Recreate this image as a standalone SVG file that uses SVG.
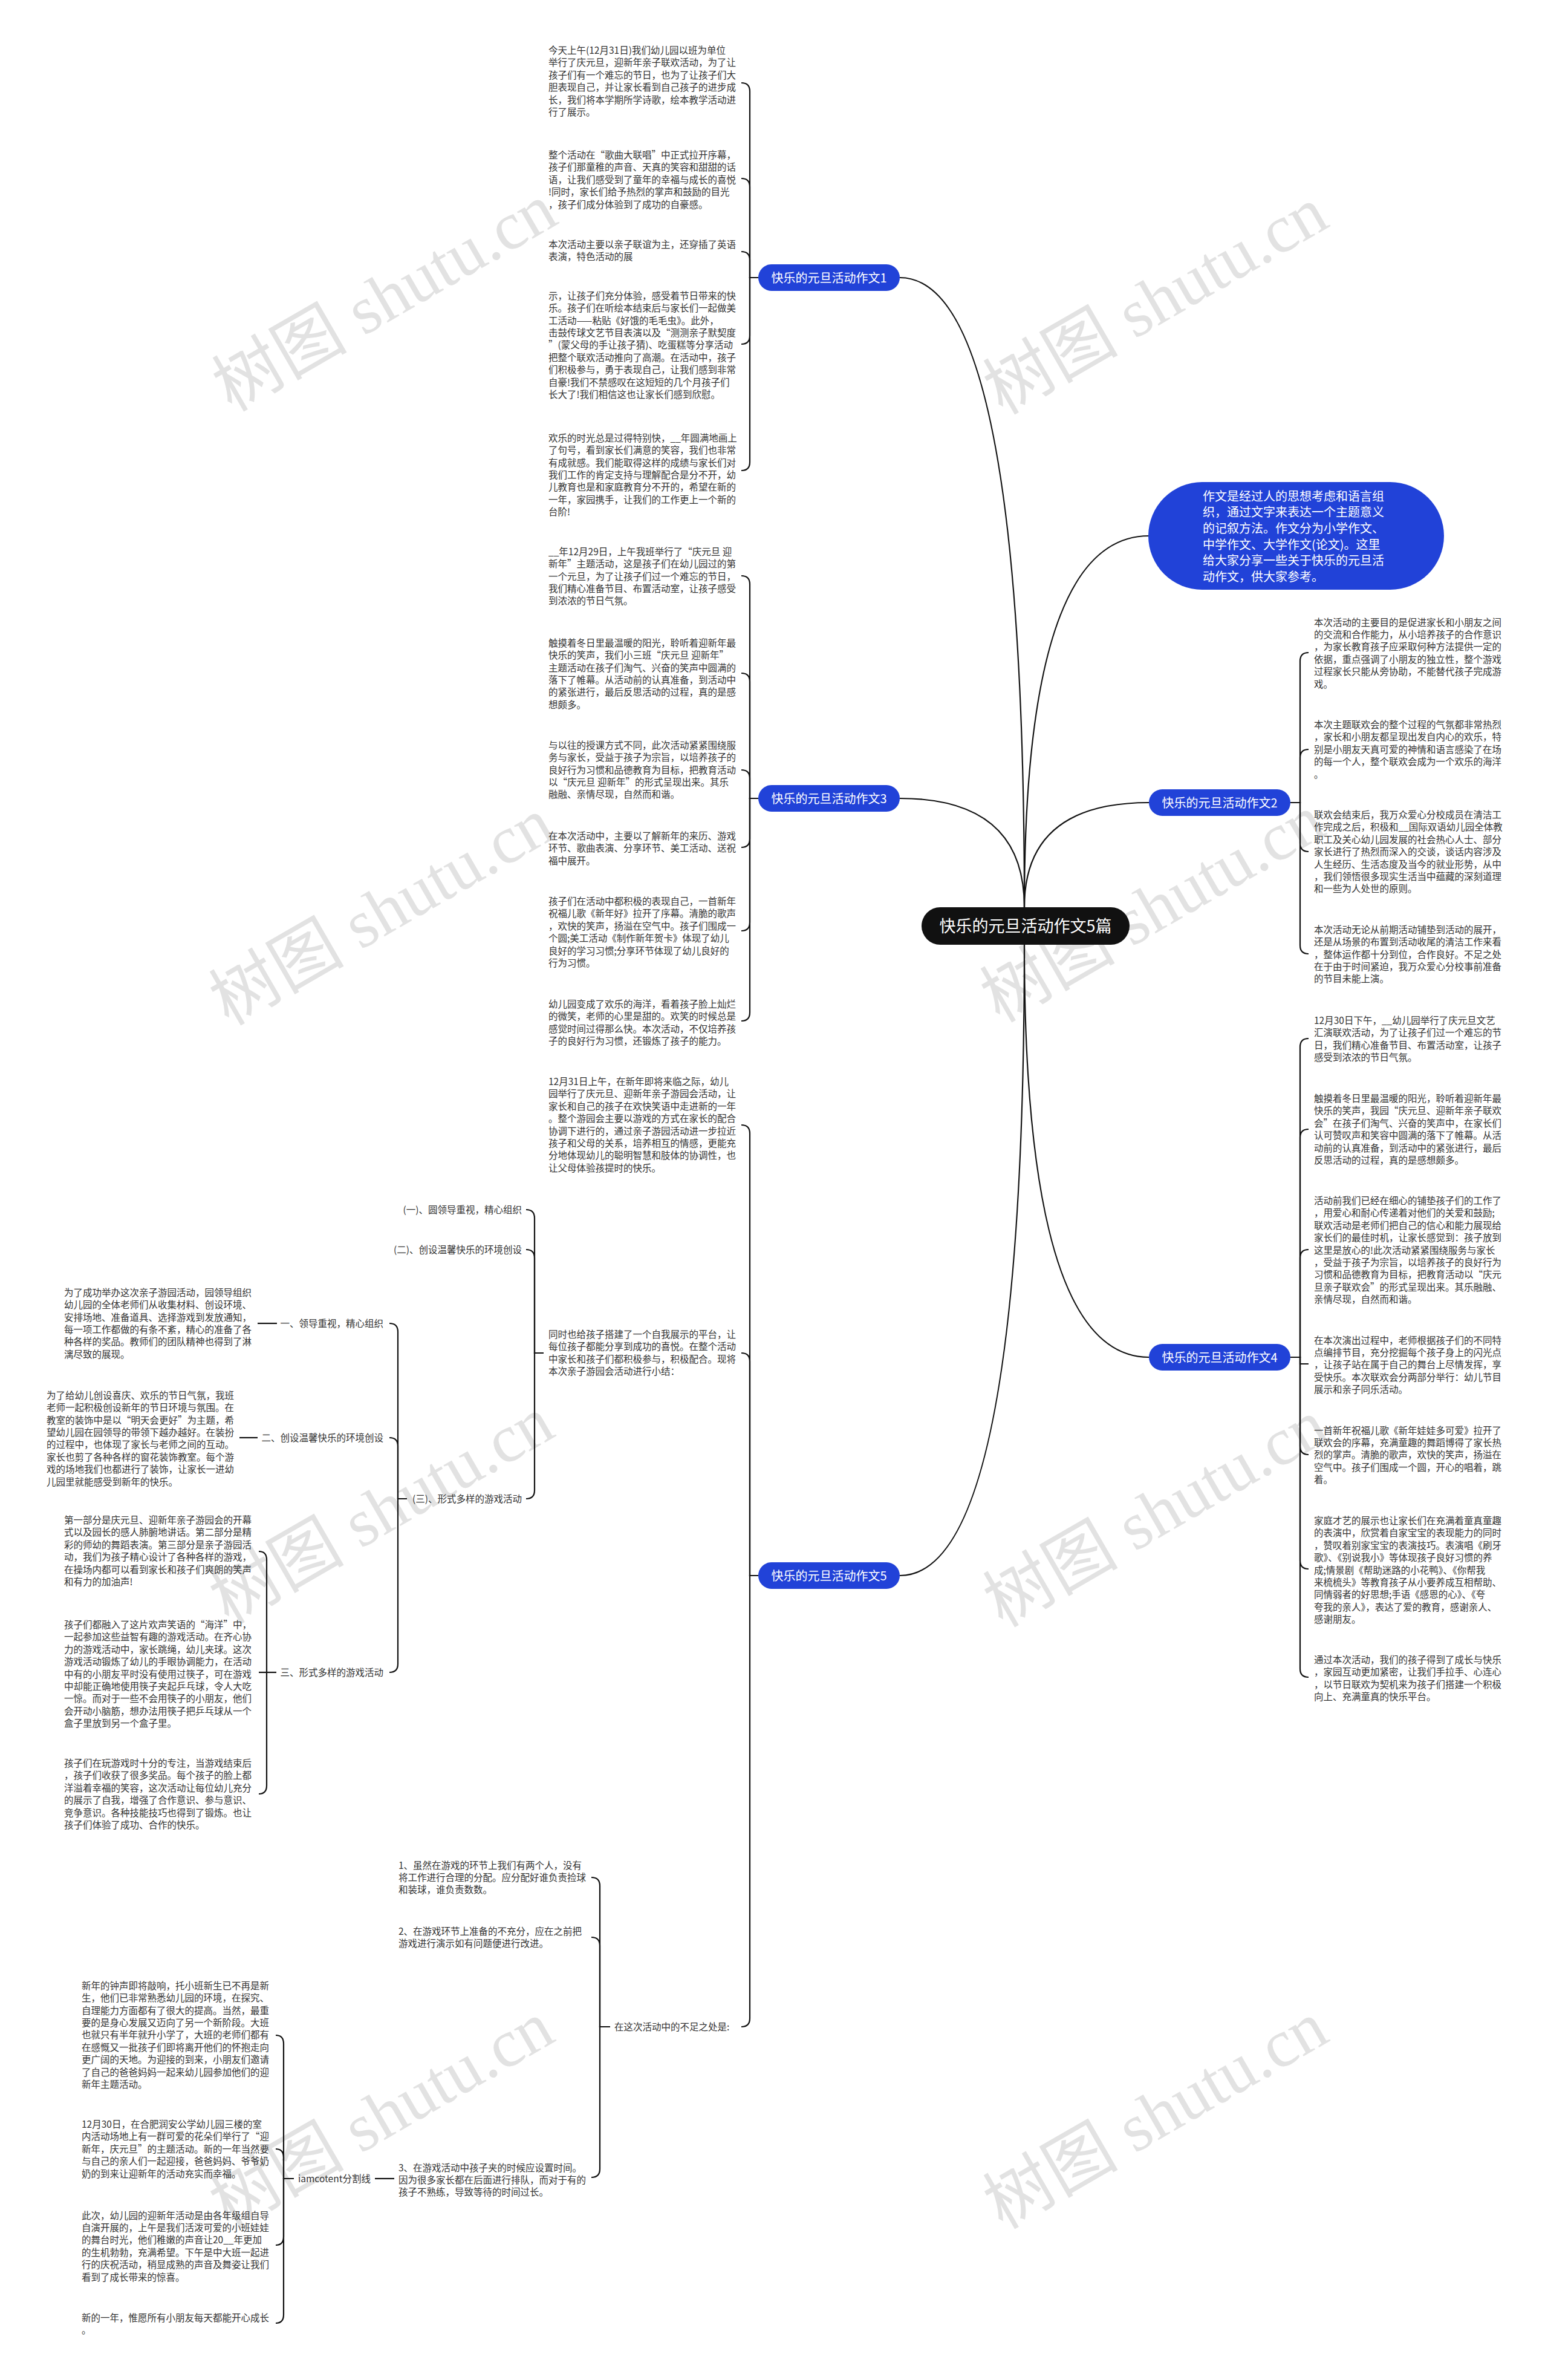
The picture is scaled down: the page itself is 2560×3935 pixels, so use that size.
<svg xmlns="http://www.w3.org/2000/svg" width="2560" height="3935" viewBox="0 0 2560 3935">
<style>
.t{font-family:"Noto Sans CJK SC","Noto Sans",sans-serif;font-size:15.5px;fill:#333}
.lb{font-family:"Noto Sans CJK SC","Noto Sans",sans-serif;font-size:15.5px;fill:#333}
.nt{font-family:"Noto Sans CJK SC","Noto Sans",sans-serif;font-size:20px;fill:#fff;text-anchor:middle}
.bn{fill:#2142d8}
.c{fill:none;stroke:#111;stroke-width:2.2}
.wm{font-family:"Liberation Serif","Noto Sans CJK SC",serif;font-size:112px;fill:#cfcfcf;opacity:.6;text-anchor:middle}
</style>
<rect width="2560" height="3935" fill="#fff"/>
<g id="watermarks">
<text class="wm" transform="translate(655,525) rotate(-30)">树图 shutu.cn</text>
<text class="wm" transform="translate(1930,530) rotate(-30)">树图 shutu.cn</text>
<text class="wm" transform="translate(650,1540) rotate(-30)">树图 shutu.cn</text>
<text class="wm" transform="translate(1925,1535) rotate(-30)">树图 shutu.cn</text>
<text class="wm" transform="translate(650,2530) rotate(-30)">树图 shutu.cn</text>
<text class="wm" transform="translate(1930,2535) rotate(-30)">树图 shutu.cn</text>
<text class="wm" transform="translate(650,3530) rotate(-30)">树图 shutu.cn</text>
<text class="wm" transform="translate(1930,3530) rotate(-30)">树图 shutu.cn</text>
</g>
<g id="connectors">
<path class="c" d="M1694,1500 Q1694,459 1488,459"/>
<path class="c" d="M1694,1500 Q1694,1320 1488,1320"/>
<path class="c" d="M1694,1500 Q1694,886 1900,886"/>
<path class="c" d="M1694,1500 Q1694,1327 1900,1327"/>
<path class="c" d="M1694,1562 Q1694,2244 1900,2244"/>
<path class="c" d="M1694,1562 Q1694,2605 1488,2605"/>
<path class="c" d="M1254,459 H1240 V151 Q1240,137 1226,137"/>
<path class="c" d="M1254,459 H1240 V309 Q1240,295 1226,295"/>
<path class="c" d="M1254,459 H1240 V430 Q1240,416 1226,416"/>
<path class="c" d="M1254,459 H1240 V555 Q1240,569 1226,569"/>
<path class="c" d="M1254,459 H1240 V764 Q1240,778 1226,778"/>
<path class="c" d="M1254,1320 H1240 V966 Q1240,952 1226,952"/>
<path class="c" d="M1254,1320 H1240 V1127 Q1240,1113 1226,1113"/>
<path class="c" d="M1254,1320 H1240 V1287 Q1240,1273 1226,1273"/>
<path class="c" d="M1254,1320 H1240 V1387 Q1240,1401 1226,1401"/>
<path class="c" d="M1254,1320 H1240 V1525 Q1240,1539 1226,1539"/>
<path class="c" d="M1254,1320 H1240 V1674 Q1240,1688 1226,1688"/>
<path class="c" d="M1254,2605 H1240 V1874 Q1240,1860 1226,1860"/>
<path class="c" d="M1254,2605 H1240 V2251 Q1240,2237 1226,2237"/>
<path class="c" d="M1254,2605 H1240 V3337 Q1240,3351 1226,3351"/>
<path class="c" d="M2134,1327 H2150 V1093 Q2150,1079 2164,1079"/>
<path class="c" d="M2134,1327 H2150 V1253 Q2150,1239 2164,1239"/>
<path class="c" d="M2134,1327 H2150 V1394 Q2150,1408 2164,1408"/>
<path class="c" d="M2134,1327 H2150 V1563 Q2150,1577 2164,1577"/>
<path class="c" d="M2134,2244 H2150 V1731 Q2150,1717 2164,1717"/>
<path class="c" d="M2134,2244 H2150 V1881 Q2150,1867 2164,1867"/>
<path class="c" d="M2134,2244 H2150 V2080 Q2150,2066 2164,2066"/>
<path class="c" d="M2134,2244 H2150 V2255 H2164"/>
<path class="c" d="M2134,2244 H2150 V2391 Q2150,2405 2164,2405"/>
<path class="c" d="M2134,2244 H2150 V2580 Q2150,2594 2164,2594"/>
<path class="c" d="M2134,2244 H2150 V2759 Q2150,2773 2164,2773"/>
<path class="c" d="M899,2237 H884 V2014 Q884,2000 870,2000"/>
<path class="c" d="M899,2237 H884 V2080 Q884,2066 870,2066"/>
<path class="c" d="M899,2237 H884 V2464 Q884,2478 870,2478"/>
<path class="c" d="M673,2478 H658 V2202 Q658,2188 644,2188"/>
<path class="c" d="M673,2478 H658 V2391 Q658,2377 644,2377"/>
<path class="c" d="M673,2478 H658 V2751 Q658,2765 644,2765"/>
<path class="c" d="M458,2188 H426"/>
<path class="c" d="M426,2377 H396"/>
<path class="c" d="M457,2765 H441 V2579 Q441,2565 428,2565"/>
<path class="c" d="M457,2765 H428"/>
<path class="c" d="M457,2765 H441 V2952 Q441,2966 428,2966"/>
<path class="c" d="M1009,3351 H992 V3118 Q992,3104 978,3104"/>
<path class="c" d="M1009,3351 H992 V3217 Q992,3203 978,3203"/>
<path class="c" d="M1009,3351 H992 V3586 Q992,3600 978,3600"/>
<path class="c" d="M652,3602 H620"/>
<path class="c" d="M486,3602 H469 V3379 Q469,3365 456,3365"/>
<path class="c" d="M486,3602 H469 V3567 Q469,3553 456,3553"/>
<path class="c" d="M486,3602 H469 V3698 Q469,3712 456,3712"/>
<path class="c" d="M486,3602 H469 V3827 Q469,3841 456,3841"/>
</g>
<g id="n-root">
<rect x="1524" y="1500" width="344" height="62" rx="31" fill="#111"/>
<text class="nt" x="1696" y="1541" style="font-size:27px">快乐的元旦活动作文5篇</text>
</g>
<g id="n-intro">
<rect class="bn" x="1899" y="797" width="489" height="178" rx="89"/>
<text class="nt" style="text-anchor:start" x="1989" y="827.5"><tspan x="1989">作文是经过人的思想考虑和语言组</tspan><tspan x="1989" dy="26.7">织，通过文字来表达一个主题意义</tspan><tspan x="1989" dy="26.7">的记叙方法。作文分为小学作文、</tspan><tspan x="1989" dy="26.7">中学作文、大学作文(论文)。这里</tspan><tspan x="1989" dy="26.7">给大家分享一些关于快乐的元旦活</tspan><tspan x="1989" dy="26.7">动作文，供大家参考。</tspan></text>
</g>
<g id="n-b1">
<rect class="bn" x="1254" y="437" width="234" height="44" rx="22"/>
<text class="nt" x="1371" y="466.5">快乐的元旦活动作文1</text>
</g>
<g id="n-b3">
<rect class="bn" x="1254" y="1298" width="234" height="44" rx="22"/>
<text class="nt" x="1371" y="1327.5">快乐的元旦活动作文3</text>
</g>
<g id="n-b5">
<rect class="bn" x="1254" y="2583" width="234" height="44" rx="22"/>
<text class="nt" x="1371" y="2612.5">快乐的元旦活动作文5</text>
</g>
<g id="n-b2">
<rect class="bn" x="1900" y="1305" width="234" height="44" rx="22"/>
<text class="nt" x="2017" y="1334.5">快乐的元旦活动作文2</text>
</g>
<g id="n-b4">
<rect class="bn" x="1900" y="2222" width="234" height="44" rx="22"/>
<text class="nt" x="2017" y="2251.5">快乐的元旦活动作文4</text>
</g>
<g id="b1-texts">
<text id="b1-t1" class="t" y="89"><tspan x="907">今天上午(12月31日)我们幼儿园以班为单位</tspan><tspan x="907" dy="20.4">举行了庆元旦，迎新年亲子联欢活动，为了让</tspan><tspan x="907" dy="20.4">孩子们有一个难忘的节日，也为了让孩子们大</tspan><tspan x="907" dy="20.4">胆表现自己，并让家长看到自己孩子的进步成</tspan><tspan x="907" dy="20.4">长，我们将本学期所学诗歌，绘本教学活动进</tspan><tspan x="907" dy="20.4">行了展示。</tspan></text>
<text id="b1-t2" class="t" y="262"><tspan x="907">整个活动在“歌曲大联唱”中正式拉开序幕，</tspan><tspan x="907" dy="20.4">孩子们那童稚的声音、天真的笑容和甜甜的话</tspan><tspan x="907" dy="20.4">语，让我们感受到了童年的幸福与成长的喜悦</tspan><tspan x="907" dy="20.4">!同时，家长们给予热烈的掌声和鼓励的目光</tspan><tspan x="907" dy="20.4">，孩子们成分体验到了成功的自豪感。</tspan></text>
<text id="b1-t3" class="t" y="409.5"><tspan x="907">本次活动主要以亲子联谊为主，还穿插了英语</tspan><tspan x="907" dy="20.4">表演，特色活动的展</tspan></text>
<text id="b1-t4" class="t" y="494.7"><tspan x="907">示，让孩子们充分体验，感受着节日带来的快</tspan><tspan x="907" dy="20.4">乐。孩子们在听绘本结束后与家长们一起做美</tspan><tspan x="907" dy="20.4">工活动——粘贴《好饿的毛毛虫》。此外，</tspan><tspan x="907" dy="20.4">击鼓传球文艺节目表演以及“测测亲子默契度</tspan><tspan x="907" dy="20.4">”(蒙父母的手让孩子猜)、吃蛋糕等分享活动</tspan><tspan x="907" dy="20.4">把整个联欢活动推向了高潮。在活动中，孩子</tspan><tspan x="907" dy="20.4">们积极参与，勇于表现自己，让我们感到非常</tspan><tspan x="907" dy="20.4">自豪!我们不禁感叹在这短短的几个月孩子们</tspan><tspan x="907" dy="20.4">长大了!我们相信这也让家长们感到欣慰。</tspan></text>
<text id="b1-t5" class="t" y="729.7"><tspan x="907">欢乐的时光总是过得特别快，__年圆满地画上</tspan><tspan x="907" dy="20.4">了句号，看到家长们满意的笑容，我们也非常</tspan><tspan x="907" dy="20.4">有成就感。我们能取得这样的成绩与家长们对</tspan><tspan x="907" dy="20.4">我们工作的肯定支持与理解配合是分不开，幼</tspan><tspan x="907" dy="20.4">儿教育也是和家庭教育分不开的，希望在新的</tspan><tspan x="907" dy="20.4">一年，家园携手，让我们的工作更上一个新的</tspan><tspan x="907" dy="20.4">台阶!</tspan></text>
</g>
<g id="b3-texts">
<text id="b3-t1" class="t" y="917.7"><tspan x="907">__年12月29日，上午我班举行了“庆元旦 迎</tspan><tspan x="907" dy="20.4">新年”主题活动，这是孩子们在幼儿园过的第</tspan><tspan x="907" dy="20.4">一个元旦，为了让孩子们过一个难忘的节日，</tspan><tspan x="907" dy="20.4">我们精心准备节目、布置活动室，让孩子感受</tspan><tspan x="907" dy="20.4">到浓浓的节日气氛。</tspan></text>
<text id="b3-t2" class="t" y="1068.7"><tspan x="907">触摸着冬日里最温暖的阳光，聆听着迎新年最</tspan><tspan x="907" dy="20.4">快乐的笑声，我们小三班“庆元旦 迎新年”</tspan><tspan x="907" dy="20.4">主题活动在孩子们淘气、兴奋的笑声中圆满的</tspan><tspan x="907" dy="20.4">落下了帷幕。从活动前的认真准备，到活动中</tspan><tspan x="907" dy="20.4">的紧张进行，最后反思活动的过程，真的是感</tspan><tspan x="907" dy="20.4">想颇多。</tspan></text>
<text id="b3-t3" class="t" y="1237.7"><tspan x="907">与以往的授课方式不同，此次活动紧紧围绕服</tspan><tspan x="907" dy="20.4">务与家长，受益于孩子为宗旨，以培养孩子的</tspan><tspan x="907" dy="20.4">良好行为习惯和品德教育为目标，把教育活动</tspan><tspan x="907" dy="20.4">以“庆元旦 迎新年”的形式呈现出来。其乐</tspan><tspan x="907" dy="20.4">融融、亲情尽现，自然而和谐。</tspan></text>
<text id="b3-t4" class="t" y="1387.7"><tspan x="907">在本次活动中，主要以了解新年的来历、游戏</tspan><tspan x="907" dy="20.4">环节、歌曲表演、分享环节、美工活动、送祝</tspan><tspan x="907" dy="20.4">福中展开。</tspan></text>
<text id="b3-t5" class="t" y="1496"><tspan x="907">孩子们在活动中都积极的表现自己，一首新年</tspan><tspan x="907" dy="20.4">祝福儿歌《新年好》拉开了序幕。清脆的歌声</tspan><tspan x="907" dy="20.4">，欢快的笑声，扬溢在空气中。孩子们围成一</tspan><tspan x="907" dy="20.4">个圆;美工活动《制作新年贺卡》体现了幼儿</tspan><tspan x="907" dy="20.4">良好的学习习惯;分享环节体现了幼儿良好的</tspan><tspan x="907" dy="20.4">行为习惯。</tspan></text>
<text id="b3-t6" class="t" y="1666"><tspan x="907">幼儿园变成了欢乐的海洋，看着孩子脸上灿烂</tspan><tspan x="907" dy="20.4">的微笑，老师的心里是甜的。欢笑的时候总是</tspan><tspan x="907" dy="20.4">感觉时间过得那么快。本次活动，不仅培养孩</tspan><tspan x="907" dy="20.4">子的良好行为习惯，还锻炼了孩子的能力。</tspan></text>
</g>
<g id="b5-texts">
<text id="b5-t1" class="t" y="1794"><tspan x="907">12月31日上午，在新年即将来临之际，幼儿</tspan><tspan x="907" dy="20.4">园举行了庆元旦、迎新年亲子游园会活动，让</tspan><tspan x="907" dy="20.4">家长和自己的孩子在欢快笑语中走进新的一年</tspan><tspan x="907" dy="20.4">。整个游园会主要以游戏的方式在家长的配合</tspan><tspan x="907" dy="20.4">协调下进行的，通过亲子游园活动进一步拉近</tspan><tspan x="907" dy="20.4">孩子和父母的关系，培养相互的情感，更能充</tspan><tspan x="907" dy="20.4">分地体现幼儿的聪明智慧和肢体的协调性，也</tspan><tspan x="907" dy="20.4">让父母体验孩提时的快乐。</tspan></text>
<text id="b5-t2" class="t" y="2212"><tspan x="907">同时也给孩子搭建了一个自我展示的平台，让</tspan><tspan x="907" dy="20.4">每位孩子都能分享到成功的喜悦。在整个活动</tspan><tspan x="907" dy="20.4">中家长和孩子们都积极参与，积极配合。现将</tspan><tspan x="907" dy="20.4">本次亲子游园会活动进行小结：</tspan></text>
<text id="b5-t3" class="t" x="1016" y="3357">在这次活动中的不足之处是:</text>
</g>
<g id="b5-sub">
<text id="lb-1" class="lb" x="863" y="2006" text-anchor="end">(一)、圆领导重视，精心组织</text>
<text id="lb-2" class="lb" x="863" y="2072" text-anchor="end">(二)、创设温馨快乐的环境创设</text>
<text id="lb-3" class="lb" x="863" y="2484" text-anchor="end">(三)、形式多样的游戏活动</text>
<text id="lb-3-1" class="lb" x="634" y="2194" text-anchor="end">一、领导重视，精心组织</text>
<text id="lb-3-2" class="lb" x="634" y="2383" text-anchor="end">二、创设温馨快乐的环境创设</text>
<text id="lb-3-3" class="lb" x="634" y="2771" text-anchor="end">三、形式多样的游戏活动</text>
<text id="s1-t" class="t" y="2142.7"><tspan x="106">为了成功举办这次亲子游园活动，园领导组织</tspan><tspan x="106" dy="20.4">幼儿园的全体老师们从收集材料、创设环境、</tspan><tspan x="106" dy="20.4">安排场地、准备道具、选择游戏到发放通知，</tspan><tspan x="106" dy="20.4">每一项工作都做的有条不紊，精心的准备了各</tspan><tspan x="106" dy="20.4">种各样的奖品。教师们的团队精神也得到了淋</tspan><tspan x="106" dy="20.4">漓尽致的展现。</tspan></text>
<text id="s2-t" class="t" y="2312.7"><tspan x="77">为了给幼儿创设喜庆、欢乐的节日气氛，我班</tspan><tspan x="77" dy="20.4">老师一起积极创设新年的节日环境与氛围。在</tspan><tspan x="77" dy="20.4">教室的装饰中是以“明天会更好”为主题，希</tspan><tspan x="77" dy="20.4">望幼儿园在园领导的带领下越办越好。在装扮</tspan><tspan x="77" dy="20.4">的过程中，也体现了家长与老师之间的互动。</tspan><tspan x="77" dy="20.4">家长也剪了各种各样的窗花装饰教室。每个游</tspan><tspan x="77" dy="20.4">戏的场地我们也都进行了装饰，让家长一进幼</tspan><tspan x="77" dy="20.4">儿园里就能感受到新年的快乐。</tspan></text>
<text id="s3-ta" class="t" y="2519"><tspan x="106">第一部分是庆元旦、迎新年亲子游园会的开幕</tspan><tspan x="106" dy="20.4">式以及园长的感人肺腑地讲话。第二部分是精</tspan><tspan x="106" dy="20.4">彩的师幼的舞蹈表演。第三部分是亲子游园活</tspan><tspan x="106" dy="20.4">动，我们为孩子精心设计了各种各样的游戏，</tspan><tspan x="106" dy="20.4">在操场内都可以看到家长和孩子们爽朗的笑声</tspan><tspan x="106" dy="20.4">和有力的加油声!</tspan></text>
<text id="s3-tb" class="t" y="2692"><tspan x="106">孩子们都融入了这片欢声笑语的“海洋”中，</tspan><tspan x="106" dy="20.4">一起参加这些益智有趣的游戏活动。在齐心协</tspan><tspan x="106" dy="20.4">力的游戏活动中，家长跳绳，幼儿夹球。这次</tspan><tspan x="106" dy="20.4">游戏活动锻炼了幼儿的手眼协调能力，在活动</tspan><tspan x="106" dy="20.4">中有的小朋友平时没有使用过筷子，可在游戏</tspan><tspan x="106" dy="20.4">中却能正确地使用筷子夹起乒乓球，令人大吃</tspan><tspan x="106" dy="20.4">一惊。而对于一些不会用筷子的小朋友，他们</tspan><tspan x="106" dy="20.4">会开动小脑筋，想办法用筷子把乒乓球从一个</tspan><tspan x="106" dy="20.4">盒子里放到另一个盒子里。</tspan></text>
<text id="s3-tc" class="t" y="2921"><tspan x="106">孩子们在玩游戏时十分的专注，当游戏结束后</tspan><tspan x="106" dy="20.4">，孩子们收获了很多奖品。每个孩子的脸上都</tspan><tspan x="106" dy="20.4">洋溢着幸福的笑容，这次活动让每位幼儿充分</tspan><tspan x="106" dy="20.4">的展示了自我，增强了合作意识、参与意识、</tspan><tspan x="106" dy="20.4">竞争意识。各种技能技巧也得到了锻炼。也让</tspan><tspan x="106" dy="20.4">孩子们体验了成功、合作的快乐。</tspan></text>
</g>
<g id="b5-shortfalls">
<text id="f1" class="t" y="3089.5"><tspan x="659">1、虽然在游戏的环节上我们有两个人，没有</tspan><tspan x="659" dy="20.4">将工作进行合理的分配。应分配好谁负责捡球</tspan><tspan x="659" dy="20.4">和装球，谁负责数数。</tspan></text>
<text id="f2" class="t" y="3199"><tspan x="659">2、在游戏环节上准备的不充分，应在之前把</tspan><tspan x="659" dy="20.4">游戏进行演示如有问题便进行改进。</tspan></text>
<text id="f3" class="t" y="3589.5"><tspan x="659">3、在游戏活动中孩子夹的时候应设置时间。</tspan><tspan x="659" dy="20.4">因为很多家长都在后面进行排队，而对于有的</tspan><tspan x="659" dy="20.4">孩子不熟练，导致等待的时间过长。</tspan></text>
<text id="lb-sep" class="lb" x="493" y="3608">iamcotent分割线</text>
<text id="p1" class="t" y="3288.7"><tspan x="135">新年的钟声即将敲响，托小班新生已不再是新</tspan><tspan x="135" dy="20.4">生，他们已非常熟悉幼儿园的环境，在探究、</tspan><tspan x="135" dy="20.4">自理能力方面都有了很大的提高。当然，最重</tspan><tspan x="135" dy="20.4">要的是身心发展又迈向了另一个新阶段。大班</tspan><tspan x="135" dy="20.4">也就只有半年就升小学了，大班的老师们都有</tspan><tspan x="135" dy="20.4">在感慨又一批孩子们即将离开他们的怀抱走向</tspan><tspan x="135" dy="20.4">更广阔的天地。为迎接的到来，小朋友们邀请</tspan><tspan x="135" dy="20.4">了自己的爸爸妈妈一起来幼儿园参加他们的迎</tspan><tspan x="135" dy="20.4">新年主题活动。</tspan></text>
<text id="p2" class="t" y="3518"><tspan x="135">12月30日，在合肥润安公学幼儿园三楼的室</tspan><tspan x="135" dy="20.4">内活动场地上有一群可爱的花朵们举行了“迎</tspan><tspan x="135" dy="20.4">新年，庆元旦”的主题活动。新的一年当然要</tspan><tspan x="135" dy="20.4">与自己的亲人们一起迎接，爸爸妈妈、爷爷奶</tspan><tspan x="135" dy="20.4">奶的到来让迎新年的活动充实而幸福。</tspan></text>
<text id="p3" class="t" y="3668.5"><tspan x="135">此次，幼儿园的迎新年活动是由各年级组自导</tspan><tspan x="135" dy="20.4">自演开展的，上午是我们活泼可爱的小班娃娃</tspan><tspan x="135" dy="20.4">的舞台时光，他们稚嫩的声音让20__年更加</tspan><tspan x="135" dy="20.4">的生机勃勃，充满希望。下午是中大班一起进</tspan><tspan x="135" dy="20.4">行的庆祝活动，稍显成熟的声音及舞姿让我们</tspan><tspan x="135" dy="20.4">看到了成长带来的惊喜。</tspan></text>
<text id="p4" class="t" y="3838"><tspan x="135">新的一年，惟愿所有小朋友每天都能开心成长</tspan><tspan x="135" dy="20.4">。</tspan></text>
</g>
<g id="b2-texts">
<text id="b2-t1" class="t" y="1034.6"><tspan x="2173">本次活动的主要目的是促进家长和小朋友之间</tspan><tspan x="2173" dy="20.4">的交流和合作能力，从小培养孩子的合作意识</tspan><tspan x="2173" dy="20.4">，为家长教育孩子应采取何种方法提供一定的</tspan><tspan x="2173" dy="20.4">依据，重点强调了小朋友的独立性，整个游戏</tspan><tspan x="2173" dy="20.4">过程家长只能从旁协助，不能替代孩子完成游</tspan><tspan x="2173" dy="20.4">戏。</tspan></text>
<text id="b2-t2" class="t" y="1204"><tspan x="2173">本次主题联欢会的整个过程的气氛都非常热烈</tspan><tspan x="2173" dy="20.4">，家长和小朋友都呈现出发自内心的欢乐，特</tspan><tspan x="2173" dy="20.4">别是小朋友天真可爱的神情和语言感染了在场</tspan><tspan x="2173" dy="20.4">的每一个人，整个联欢会成为一个欢乐的海洋</tspan><tspan x="2173" dy="20.4">。</tspan></text>
<text id="b2-t3" class="t" y="1353"><tspan x="2173">联欢会结束后，我万众爱心分校成员在清洁工</tspan><tspan x="2173" dy="20.4">作完成之后，积极和__国际双语幼儿园全体教</tspan><tspan x="2173" dy="20.4">职工及关心幼儿园发展的社会热心人士、部分</tspan><tspan x="2173" dy="20.4">家长进行了热烈而深入的交谈，谈话内容涉及</tspan><tspan x="2173" dy="20.4">人生经历、生活态度及当今的就业形势，从中</tspan><tspan x="2173" dy="20.4">，我们领悟很多现实生活当中蕴藏的深刻道理</tspan><tspan x="2173" dy="20.4">和一些为人处世的原则。</tspan></text>
<text id="b2-t4" class="t" y="1542.7"><tspan x="2173">本次活动无论从前期活动铺垫到活动的展开，</tspan><tspan x="2173" dy="20.4">还是从场景的布置到活动收尾的清洁工作来看</tspan><tspan x="2173" dy="20.4">，整体运作都十分到位，合作良好。不足之处</tspan><tspan x="2173" dy="20.4">在于由于时间紧迫，我万众爱心分校事前准备</tspan><tspan x="2173" dy="20.4">的节目未能上演。</tspan></text>
</g>
<g id="b4-texts">
<text id="b4-t1" class="t" y="1692.7"><tspan x="2173">12月30日下午，__幼儿园举行了庆元旦文艺</tspan><tspan x="2173" dy="20.4">汇演联欢活动，为了让孩子们过一个难忘的节</tspan><tspan x="2173" dy="20.4">日，我们精心准备节目、布置活动室，让孩子</tspan><tspan x="2173" dy="20.4">感受到浓浓的节日气氛。</tspan></text>
<text id="b4-t2" class="t" y="1822"><tspan x="2173">触摸着冬日里最温暖的阳光，聆听着迎新年最</tspan><tspan x="2173" dy="20.4">快乐的笑声，我园“庆元旦、迎新年亲子联欢</tspan><tspan x="2173" dy="20.4">会”在孩子们淘气、兴奋的笑声中，在家长们</tspan><tspan x="2173" dy="20.4">认可赞叹声和笑容中圆满的落下了帷幕。从活</tspan><tspan x="2173" dy="20.4">动前的认真准备，到活动中的紧张进行，最后</tspan><tspan x="2173" dy="20.4">反思活动的过程，真的是感想颇多。</tspan></text>
<text id="b4-t3" class="t" y="1991"><tspan x="2173">活动前我们已经在细心的铺垫孩子们的工作了</tspan><tspan x="2173" dy="20.4">，用爱心和耐心传递着对他们的关爱和鼓励;</tspan><tspan x="2173" dy="20.4">联欢活动是老师们把自己的信心和能力展现给</tspan><tspan x="2173" dy="20.4">家长们的最佳时机，让家长感觉到：孩子放到</tspan><tspan x="2173" dy="20.4">这里是放心的!此次活动紧紧围绕服务与家长</tspan><tspan x="2173" dy="20.4">，受益于孩子为宗旨，以培养孩子的良好行为</tspan><tspan x="2173" dy="20.4">习惯和品德教育为目标，把教育活动以“庆元</tspan><tspan x="2173" dy="20.4">旦亲子联欢会”的形式呈现出来。其乐融融、</tspan><tspan x="2173" dy="20.4">亲情尽现，自然而和谐。</tspan></text>
<text id="b4-t4" class="t" y="2221.5"><tspan x="2173">在本次演出过程中，老师根据孩子们的不同特</tspan><tspan x="2173" dy="20.4">点编排节目，充分挖掘每个孩子身上的闪光点</tspan><tspan x="2173" dy="20.4">，让孩子站在属于自己的舞台上尽情发挥，享</tspan><tspan x="2173" dy="20.4">受快乐。本次联欢会分两部分举行：幼儿节目</tspan><tspan x="2173" dy="20.4">展示和亲子同乐活动。</tspan></text>
<text id="b4-t5" class="t" y="2370.5"><tspan x="2173">一首新年祝福儿歌《新年娃娃多可爱》拉开了</tspan><tspan x="2173" dy="20.4">联欢会的序幕，充满童趣的舞蹈博得了家长热</tspan><tspan x="2173" dy="20.4">烈的掌声。清脆的歌声，欢快的笑声，扬溢在</tspan><tspan x="2173" dy="20.4">空气中。孩子们围成一个圆，开心的唱着，跳</tspan><tspan x="2173" dy="20.4">着。</tspan></text>
<text id="b4-t6" class="t" y="2520"><tspan x="2173">家庭才艺的展示也让家长们在充满着童真童趣</tspan><tspan x="2173" dy="20.4">的表演中，欣赏着自家宝宝的表现能力的同时</tspan><tspan x="2173" dy="20.4">，赞叹着别家宝宝的表演技巧。表演唱《刷牙</tspan><tspan x="2173" dy="20.4">歌》、《别说我小》等体现孩子良好习惯的养</tspan><tspan x="2173" dy="20.4">成;情景剧《帮助迷路的小花鸭》、《你帮我</tspan><tspan x="2173" dy="20.4">来梳梳头》等教育孩子从小要养成互相帮助、</tspan><tspan x="2173" dy="20.4">同情弱者的好思想;手语《感恩的心》、《夸</tspan><tspan x="2173" dy="20.4">夸我的亲人》，表达了爱的教育，感谢亲人、</tspan><tspan x="2173" dy="20.4">感谢朋友。</tspan></text>
<text id="b4-t7" class="t" y="2749.8"><tspan x="2173">通过本次活动，我们的孩子得到了成长与快乐</tspan><tspan x="2173" dy="20.4">，家园互动更加紧密，让我们手拉手、心连心</tspan><tspan x="2173" dy="20.4">，以节日联欢为契机来为孩子们搭建一个积极</tspan><tspan x="2173" dy="20.4">向上、充满童真的快乐平台。</tspan></text>
</g>
</svg>
